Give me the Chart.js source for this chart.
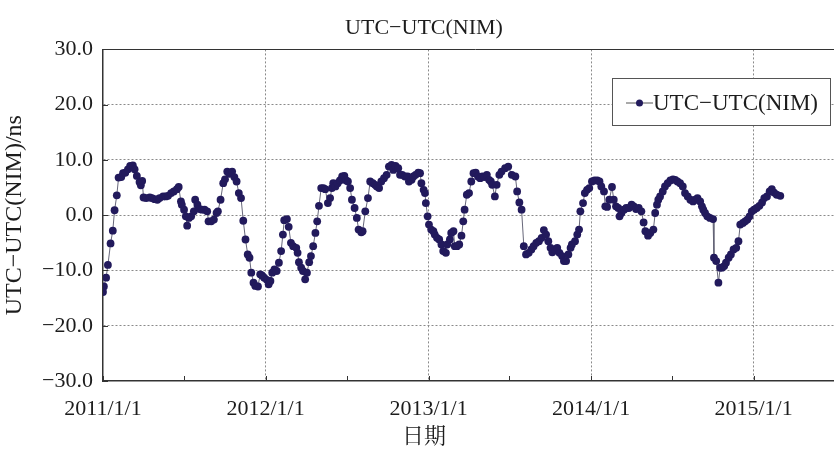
<!DOCTYPE html>
<html>
<head>
<meta charset="utf-8">
<script src="https://cdn.jsdelivr.net/npm/chart.js@4.4.1/dist/chart.umd.min.js"></script>
<style>
  html, body { margin: 0; padding: 0; background: #ffffff; overflow: hidden; }
  #wrap { width: 860px; height: 452px; }
</style>
</head>
<body>
<div id="wrap"><canvas id="c" width="860" height="452"></canvas></div>
<script>
// ---- data ----
const chartTitle = 'UTC\u2212UTC(NIM)';
const seriesName = 'UTC\u2212UTC(NIM)';
const yAxisTitle = 'UTC\u2212UTC(NIM)/ns';
const xAxisTitle = '日期';
const startDate = '2011-01-01';
const xTickLabels = ['2011/1/1', '2012/1/1', '2013/1/1', '2014/1/1', '2015/1/1'];
const xMinorTickDates = ['2011/7/1', '2012/7/1', '2013/7/1', '2014/7/1', '2015/7/1'];
const xEndDate = '2015/8/1';
const yTicks = [-30, -20, -10, 0, 10, 20, 30];
// days since 2011-01-01
const sampleDays = [0,2,7,11,17,22,26,31,35,41,45,50,56,61,67,71,76,82,85,88,91,97,105,110,116,122,127,135,141,146,153,159,166,170,175,177,182,186,189,193,198,204,207,212,217,222,228,234,237,243,249,255,258,264,270,274,279,284,290,295,300,305,310,315,320,325,329,333,338,342,348,353,357,362,368,372,376,380,385,390,395,400,404,407,413,417,422,427,434,437,440,445,449,454,458,463,467,472,477,481,485,490,495,499,505,510,514,517,522,527,532,537,542,546,550,555,559,565,570,574,580,583,589,595,600,606,611,615,620,625,631,637,642,648,652,657,663,667,672,678,684,687,693,697,702,708,712,715,720,723,725,729,732,737,742,745,750,755,760,764,770,773,779,782,787,790,795,800,805,809,812,817,822,827,832,837,842,847,852,857,862,867,871,874,880,884,890,895,903,910,918,926,930,935,940,945,950,956,962,967,973,979,985,990,995,1000,1005,1009,1015,1020,1025,1031,1035,1040,1045,1050,1053,1060,1065,1069,1072,1078,1082,1087,1092,1098,1104,1110,1115,1119,1125,1128,1132,1137,1143,1147,1152,1157,1160,1164,1170,1175,1181,1187,1192,1197,1203,1209,1214,1218,1224,1229,1236,1240,1244,1247,1251,1257,1262,1268,1274,1280,1285,1290,1296,1302,1307,1313,1319,1325,1330,1335,1341,1345,1348,1352,1357,1363,1370,1372,1377,1382,1386,1390,1395,1399,1405,1410,1416,1422,1427,1431,1437,1442,1447,1452,1457,1462,1468,1474,1480,1485,1491,1497,1502,1507,1513,1521];
const offsetNs = [-13.9,-12.9,-11.3,-9.0,-5.1,-2.8,0.9,3.6,6.8,6.9,7.6,7.7,8.3,8.9,9.0,8.3,7.1,6.0,5.4,6.2,3.2,3.1,3.2,3.1,2.9,2.8,3.1,3.4,3.4,3.5,4.0,4.3,4.7,5.1,2.5,1.9,1.0,-0.2,-1.9,-0.5,-0.2,0.7,2.8,1.9,1.1,1.0,1.0,0.7,-1.1,-1.1,-0.8,0.4,0.7,2.8,5.8,6.5,7.9,7.5,7.9,6.9,6.1,4.0,3.1,-1.0,-4.4,-7.1,-7.7,-10.4,-12.2,-12.8,-12.9,-10.7,-10.9,-11.3,-11.7,-12.5,-11.9,-10.4,-9.8,-10.1,-8.6,-6.5,-3.5,-0.9,-0.7,-2.1,-5.0,-5.6,-5.9,-6.8,-8.5,-9.5,-10.1,-11.6,-10.4,-8.5,-7.4,-5.6,-3.2,-1.1,1.7,4.9,4.9,4.7,2.2,3.1,4.9,5.8,5.2,5.8,6.3,7.0,7.1,6.3,6.1,4.9,2.8,1.3,-0.5,-2.6,-3.1,-2.9,0.7,3.1,6.1,5.8,5.5,5.2,4.9,6.1,6.7,7.3,8.8,9.1,8.2,8.9,8.5,7.3,7.3,7.0,7.0,6.1,6.4,7.0,7.3,7.7,7.6,5.8,4.6,4.0,2.2,-0.2,-1.7,-2.6,-2.9,-3.5,-4.1,-4.4,-5.3,-6.5,-6.8,-5.3,-4.4,-3.2,-2.9,-5.6,-5.6,-5.3,-3.7,-1.1,1.0,3.7,4.0,6.1,7.6,7.7,7.0,6.7,7.0,6.9,7.3,6.4,6.1,5.5,3.4,5.5,7.3,7.9,8.5,8.8,7.3,7.0,4.3,2.3,1.0,-5.6,-7.1,-6.8,-6.2,-5.6,-5.0,-4.7,-4.1,-2.7,-3.5,-4.7,-5.9,-6.7,-6.2,-5.9,-6.8,-7.4,-8.3,-8.3,-7.1,-5.9,-5.3,-4.7,-3.5,-2.6,0.7,2.2,4.0,4.6,4.9,6.1,6.3,6.3,6.1,5.2,4.3,1.6,1.5,2.8,5.1,2.8,1.6,1.3,-0.2,0.4,1.0,1.3,1.3,1.9,1.6,1.1,1.3,0.7,-1.3,-2.9,-3.7,-3.2,-2.6,0.4,1.9,2.8,3.4,4.3,5.2,5.8,6.3,6.5,6.4,6.1,5.8,5.2,4.0,3.4,2.8,2.5,2.8,3.1,2.5,1.6,1.0,0.4,-0.2,-0.5,-0.7,-7.7,-8.3,-12.2,-9.5,-9.5,-9.2,-8.6,-7.7,-7.1,-6.2,-5.9,-4.7,-1.7,-1.4,-1.1,-0.8,-0.2,0.7,1.0,1.3,1.7,2.3,3.1,3.4,4.3,4.7,4.1,3.7,3.5];

// ---- helpers ----
const DAY = 86400000;
function dayOf(s) {
  const p = s.split(/[\/-]/).map(Number);
  const b = startDate.split('-').map(Number);
  return Math.round((Date.UTC(p[0], p[1]-1, p[2]) - Date.UTC(b[0], b[1]-1, b[2])) / DAY);
}
const majorDays = xTickLabels.map(dayOf);
const minorDays = xMinorTickDates.map(dayOf);
const xMax = dayOf(xEndDate);
const points = sampleDays.map((d, i) => ({ x: d, y: offsetNs[i] }));

const SERIF = "'Liberation Serif', 'Times New Roman', 'Noto Serif CJK SC', 'Noto Sans CJK SC', serif";
const INK = '#1c1c1c';
const MARK = '#221a5c';

const decor = {
  id: 'decor',
  afterDraw(chart) {
    const { ctx, chartArea: a, scales: { x, y } } = chart;
    ctx.save();
    ctx.strokeStyle = '#333';
    ctx.lineWidth = 1;
    // top frame line
    ctx.beginPath();
    ctx.moveTo(a.left, Math.round(a.top) + 0.5);
    ctx.lineTo(a.right, Math.round(a.top) + 0.5);
    ctx.stroke();
    // inward y ticks
    yTicks.forEach(v => {
      const py = Math.round(y.getPixelForValue(v)) + 0.5;
      ctx.beginPath(); ctx.moveTo(a.left, py); ctx.lineTo(a.left + 5, py); ctx.stroke();
    });
    // inward x ticks
    majorDays.concat(minorDays).forEach(d => {
      const px = Math.round(x.getPixelForValue(d)) + 0.5;
      if (px > a.right) return;
      ctx.beginPath(); ctx.moveTo(px, a.bottom); ctx.lineTo(px, a.bottom - 5); ctx.stroke();
    });
    // legend box
    const bx = 612, by = 78, bw = 218, bh = 47;
    ctx.fillStyle = '#ffffff';
    ctx.fillRect(bx, by, bw, bh);
    ctx.strokeStyle = '#555';
    ctx.strokeRect(bx + 0.5, by + 0.5, bw, bh);
    const ly = by + 25;
    ctx.strokeStyle = '#555';
    ctx.beginPath(); ctx.moveTo(626, ly); ctx.lineTo(653, ly); ctx.stroke();
    ctx.fillStyle = MARK;
    ctx.beginPath(); ctx.arc(639.5, ly, 3.5, 0, Math.PI * 2); ctx.fill();
    ctx.fillStyle = INK;
    ctx.font = "23px " + SERIF;
    ctx.textBaseline = 'middle';
    ctx.textAlign = 'left';
    ctx.fillText(chart.data.datasets[0].label, 653, ly + 1);
    ctx.restore();
  }
};

new Chart(document.getElementById('c'), {
  type: 'line',
  data: {
    datasets: [{
      label: seriesName,
      data: points,
      borderColor: 'rgba(95,95,115,0.95)',
      borderWidth: 1,
      pointRadius: 3.9,
      pointBorderWidth: 0,
      pointBackgroundColor: MARK,
      pointBorderColor: MARK,
      tension: 0,
      fill: false
    }]
  },
  options: {
    responsive: false,
    animation: false,
    devicePixelRatio: 1,
    layout: { padding: { left: 0, right: 12, top: 0, bottom: 0 } },
    plugins: {
      legend: { display: false },
      tooltip: { enabled: false },
      title: {
        display: true, text: chartTitle, color: INK,
        font: { family: SERIF, size: 22, weight: 'normal', lineHeight: 1.2 },
        padding: { top: 15, bottom: 8 }
      },
      subtitle: {
        display: true, position: 'bottom', text: xAxisTitle, color: INK,
        font: { family: SERIF, size: 22, weight: 'normal', lineHeight: 1.2 },
        padding: { top: 4, bottom: 2 }
      }
    },
    scales: {
      x: {
        type: 'linear', min: 0, max: xMax,
        afterBuildTicks: s => { s.ticks = majorDays.map(v => ({ value: v })); },
        afterFit: s => { s.height = 38.6; },
        ticks: {
          color: INK, padding: 15, maxRotation: 0, autoSkip: false,
          font: { family: SERIF, size: 22 },
          callback: v => { const i = majorDays.indexOf(v); return i >= 0 ? xTickLabels[i] : ''; }
        },
        grid: {
          drawTicks: false,
          color: c => (c.tick && c.tick.value === 0) ? 'rgba(0,0,0,0)' : '#8a8a8a',
          lineWidth: 1
        },
        border: { display: true, color: '#333', width: 1.5, dash: [2, 2] }
      },
      y: {
        min: -30, max: 30,
        afterBuildTicks: s => { s.ticks = yTicks.map(v => ({ value: v })); },
        afterFit: s => { s.width = 103; },
        ticks: {
          color: INK, padding: 10,
          font: { family: SERIF, size: 22 },
          callback: v => (v < 0 ? '\u2212' : '') + Math.abs(v).toFixed(1)
        },
        grid: {
          drawTicks: false,
          color: c => (c.tick && (c.tick.value === 30 || c.tick.value === -30)) ? 'rgba(0,0,0,0)' : '#8a8a8a',
          lineWidth: 1
        },
        border: { display: true, color: '#333', width: 1.5, dash: [2, 2] },
        title: {
          display: true, text: yAxisTitle, color: INK,
          font: { family: SERIF, size: 24, weight: 'normal' },
          padding: { top: 0, bottom: 2 }
        }
      }
    }
  },
  plugins: [decor]
});
</script>
</body>
</html>
